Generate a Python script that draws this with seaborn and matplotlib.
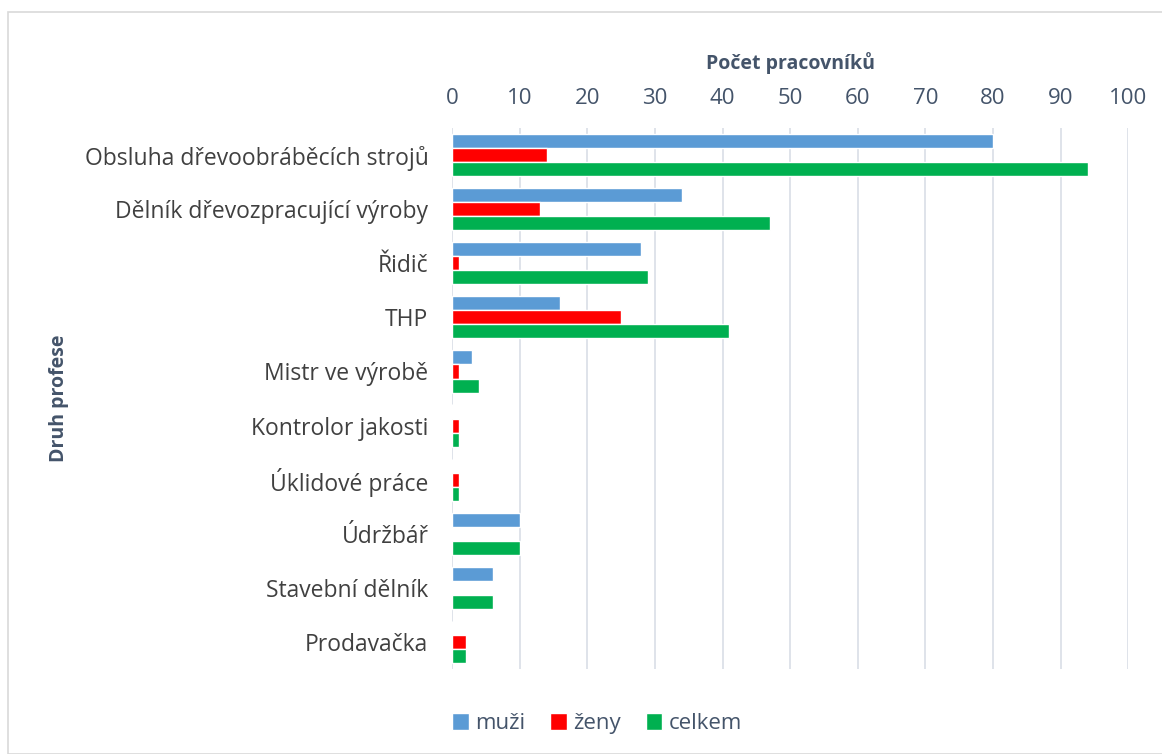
import pandas as pd
import matplotlib.pyplot as plt
import seaborn as sns
from matplotlib.patches import Rectangle

# data
professions = ["Obsluha dřevoobráběcích strojů", "Dělník dřevozpracující výroby", "Řidič", "THP",
               "Mistr ve výrobě", "Kontrolor jakosti", "Úklidové práce", "Údržbář",
               "Stavební dělník", "Prodavačka"]
muzi = [80, 34, 28, 16, 3, 0, 0, 10, 6, 0]
zeny = [14, 13, 1, 25, 1, 1, 1, 0, 0, 2]
celkem = [94, 47, 29, 41, 4, 1, 1, 10, 6, 2]
series = ["muži", "ženy", "celkem"]
colors = ["#5B9BD5", "#FF0000", "#00B050"]

df = pd.DataFrame({"profese": professions, "muži": muzi, "ženy": zeny, "celkem": celkem})
long_df = df.melt(id_vars="profese", var_name="pohlavi", value_name="pocet")

sns.set_style("white")
plt.rcParams["font.family"] = ["Open Sans", "DejaVu Sans"]

fig = plt.figure(figsize=(11.62, 7.54), dpi=100)
ax = fig.add_axes([0.389, 0.1127, 0.582, 0.7175])

sns.barplot(data=long_df, y="profese", x="pocet", hue="pohlavi", hue_order=series,
            order=professions, palette=colors, width=0.78, saturation=1, ax=ax)

ax.set_xlim(0, 100)
ax.set_xticks(range(0, 101, 10))
ax.xaxis.tick_top()
ax.xaxis.set_label_position("top")
ax.set_xlabel("Počet pracovníků", fontsize=14, fontweight="bold", color="#44546A")
ax.set_ylabel("Druh profese", fontsize=14, fontweight="bold", color="#44546A")
ax.xaxis.set_label_coords(0.5, 1.109)
ax.yaxis.set_label_coords(-0.566, 0.5)
ax.tick_params(axis="x", length=0, labelsize=16, labelcolor="#44546A", pad=14)
ax.tick_params(axis="y", length=0, labelsize=16.5, labelcolor="#404040", pad=17)
ax.grid(axis="x", color="#D9DEE6", linewidth=1.2)
ax.set_axisbelow(True)
for s in ax.spines.values():
    s.set_visible(False)

ax.legend(handles=ax.get_legend_handles_labels()[0], labels=series, loc="center",
          bbox_to_anchor=(0.514, 0.040), bbox_transform=fig.transFigure, ncol=3, frameon=False,
          fontsize=16, labelcolor="#44546A", handlelength=0.75, handleheight=0.75,
          handletextpad=0.3, columnspacing=1.1)

fig.patches.append(Rectangle((8 / 1162, 0), 1.0, 1 - 12 / 754, transform=fig.transFigure,
                             fill=False, edgecolor="#D9D9D9", linewidth=1.2))

fig.savefig("out.png", dpi=100)
